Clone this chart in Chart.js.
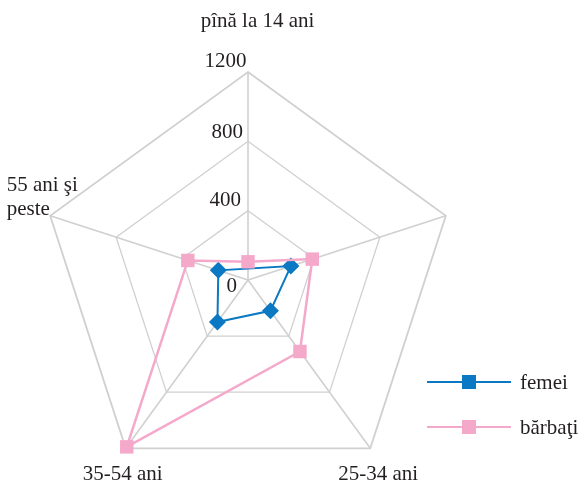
<!DOCTYPE html>
<html><head><meta charset="utf-8">
<script src="https://cdn.jsdelivr.net/npm/chart.js@4.4.1/dist/chart.umd.min.js"></script>
<style>html,body{margin:0;padding:0;overflow:hidden;background:#fff}</style>
</head><body>
<canvas id="c" width="580" height="500"></canvas>
<script>
// ---- data ----
const categories = ['pînă la 14 ani', '', '25-34 ani', '35-54 ani', ['55 ani şi', 'peste']];
const seriesNames = ['femei', 'bărbaţi'];
const femei = [null, 260, 220, 300, 180];
const barbati = [105, 390, 510, 1190, 365];
const tickValues = [0, 400, 800, 1200];

// ---- styles ----
const FONT = '21px "Liberation Serif", "Times New Roman", serif';
const TEXT = '#231f20';
const BLUE = '#0a78c2';
const PINK = '#f4a8ca';
const GRID = '#d0d0d0';
const labelStyle = [
  {dx: 9.5, dy: -45, align: 'center'},
  {dx: 0, dy: 0, align: 'center'},
  {dx: 8, dy: 32, align: 'center'},
  {dx: -3, dy: 32, align: 'center'},
  {dx: -43.5, dy: -24.5, align: 'left'}
];
const tickStyle = [
  {dx: -11, dy: 11.7},
  {dx: -7, dy: -5},
  {dx: -5, dy: -3.5},
  {dx: -1.5, dy: -5}
];

const textPlugin = {
  id: 'textPlugin',
  beforeDatasetsDraw(chart) {
    const s = chart.scales.r, ctx = chart.ctx;
    ctx.save();
    ctx.font = FONT; ctx.fillStyle = TEXT; ctx.textBaseline = 'alphabetic';
    ctx.textAlign = 'right';
    s.ticks.forEach((t, i) => {
      const d = s.getDistanceFromCenterForValue(t.value);
      const st = tickStyle[i] || {dx: -5, dy: -4};
      ctx.fillText(String(tickValues[i] !== undefined ? tickValues[i] : t.value), s.xCenter + st.dx, s.yCenter - d + st.dy);
    });
    chart.data.labels.forEach((lab, i) => {
      const p = s.getPointPosition(i, s.drawingArea);
      const st = labelStyle[i];
      ctx.textAlign = st.align;
      const lines = Array.isArray(lab) ? lab : [lab];
      lines.forEach((ln, k) => ctx.fillText(ln, p.x + st.dx, p.y + st.dy + k * 24));
    });
    ctx.restore();
  },
  afterDraw(chart) {
    const ctx = chart.ctx;
    ctx.save();
    ctx.font = FONT; ctx.textAlign = 'left'; ctx.textBaseline = 'alphabetic';
    chart.data.datasets.forEach((ds, i) => {
      const y = 382 + i * 45;
      ctx.strokeStyle = ds.borderColor; ctx.lineWidth = 2;
      ctx.beginPath(); ctx.moveTo(427, y); ctx.lineTo(511, y); ctx.stroke();
      ctx.fillStyle = ds.pointBackgroundColor;
      ctx.fillRect(462, y - 7, 14, 14);
      ctx.fillStyle = TEXT;
      ctx.fillText(ds.label, 520, y + 6.5);
    });
    ctx.restore();
  }
};

new Chart(document.getElementById('c'), {
  type: 'radar',
  data: {
    labels: categories,
    datasets: [
      {label: seriesNames[0], data: femei, borderColor: BLUE, backgroundColor: 'transparent',
       pointBackgroundColor: BLUE, pointBorderWidth: 0, pointStyle: 'rectRot', pointRadius: 8.5,
       borderWidth: 2, fill: false, spanGaps: true, tension: 0, order: 1},
      {label: seriesNames[1], data: barbati, borderColor: PINK, backgroundColor: 'transparent',
       pointBackgroundColor: PINK, pointBorderWidth: 0, pointStyle: 'rect', pointRadius: 9.5,
       borderWidth: 2.5, fill: false, tension: 0, order: 0}
    ]
  },
  options: {
    responsive: false,
    animation: false,
    devicePixelRatio: 1,
    layout: {padding: {left: 40, right: 124, top: 72, bottom: 12}},
    plugins: {legend: {display: false}, tooltip: {enabled: false}},
    scales: {
      r: {
        min: 0, max: 1200,
        ticks: {display: false, stepSize: 400},
        grid: {color: GRID, lineWidth: (c) => (c.tick && c.tick.value === 1200 ? 1.8 : 1.3)},
        angleLines: {color: GRID, lineWidth: 1.6},
        pointLabels: {display: false}
      }
    }
  },
  plugins: [textPlugin]
});
</script>
</body></html>
